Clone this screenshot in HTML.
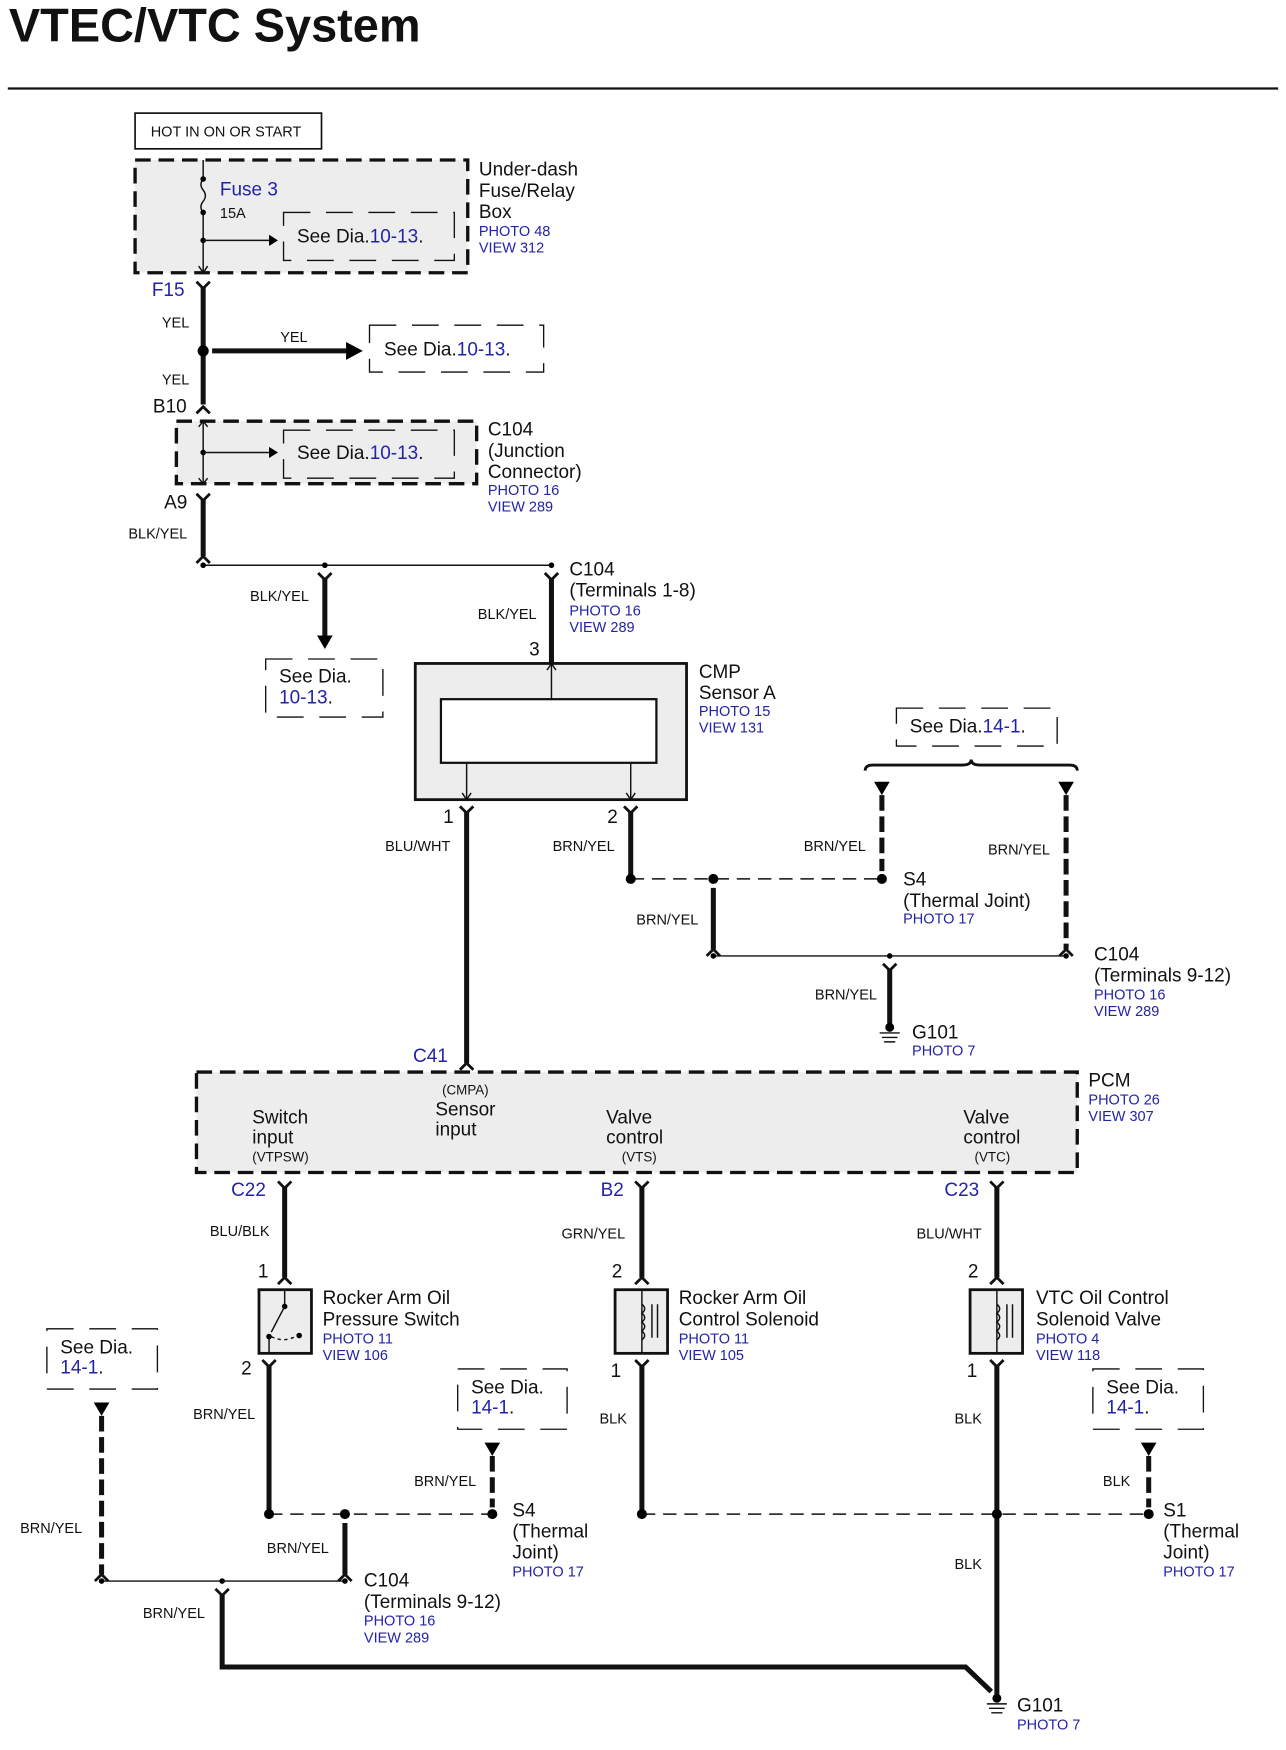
<!DOCTYPE html>
<html><head><meta charset="utf-8"><style>
html,body{margin:0;padding:0;background:#fff;}
svg{display:block;}
text{font-family:"Liberation Sans",sans-serif;fill:#111;}
.b{fill:#2323a8;}
.L{font-size:17px;}
.s{font-size:13px;}
.w{font-size:13px;}
.thick{stroke:#111;stroke-width:4.5;fill:none;}
.thin{stroke:#111;stroke-width:1.3;fill:none;}
.dash{stroke:#111;stroke-width:1.3;fill:none;stroke-dasharray:12 7;}
.box{stroke:#111;stroke-width:3;fill:#ededed;stroke-dasharray:14 7;}
.sbox{stroke:#111;stroke-width:1.2;fill:none;stroke-dasharray:24 14;}
.con{stroke:#111;stroke-width:2.5;fill:none;}
.dw{stroke:#111;stroke-width:4.5;fill:none;stroke-dasharray:14 5;}
</style></head><body>
<svg width="1286" height="1750" viewBox="0 0 1152 1567" xmlns="http://www.w3.org/2000/svg">
<text x="8" y="37" style="font-size:42px;font-weight:bold">VTEC/VTC System</text>
<line x1="7" y1="79" x2="1145" y2="79" stroke="#111" stroke-width="2"/>

<rect x="121" y="101" width="167" height="32" fill="#fff" stroke="#111" stroke-width="1.5"/>
<text x="135" y="122" class="s">HOT IN ON OR START</text>

<rect x="121" y="143" width="298" height="101" class="box"/>
<line x1="182" y1="143" x2="182" y2="160" class="thin"/>
<path d="M182 160 q-4 5 0 10 q4 5 0 10 q-4 5 0 10" class="thin"/>
<line x1="182" y1="190" x2="182" y2="244" class="thin"/>
<circle cx="182" cy="160" r="2.5"/><circle cx="182" cy="190" r="2.5"/><circle cx="182" cy="215" r="2.5"/>
<line x1="182" y1="215" x2="242" y2="215" class="thin"/><path d="M241 210 L249 215 L241 220Z"/>
<path d="M178 238 L182 244 L186 238" class="thin"/>
<text x="197" y="175" class="L b">Fuse 3</text>
<text x="197" y="195" class="s">15A</text>
<rect x="254" y="190" width="153" height="43" class="sbox"/>
<text x="266" y="217" class="L">See Dia.<tspan class="b">10-13</tspan>.</text>
<text x="429" y="157" class="L">Under-dash</text>
<text x="429" y="176" class="L">Fuse/Relay</text>
<text x="429" y="195" class="L">Box</text>
<text x="429" y="211" class="s b">PHOTO 48</text>
<text x="429" y="226" class="s b">VIEW 312</text>

<text x="136" y="265" class="L b">F15</text>
<path d="M176 252 L182 258 L188 252" class="con"/>
<line x1="182" y1="257" x2="182" y2="362" class="thick"/>
<text x="145" y="293" class="w">YEL</text>
<circle cx="182" cy="314" r="5"/>
<line x1="190" y1="314" x2="312" y2="314" class="thick"/><path d="M310 306 L325 314 L310 322Z"/>
<text x="251" y="306" class="w">YEL</text>
<rect x="331" y="291" width="156" height="42" class="sbox"/>
<text x="344" y="318" class="L">See Dia.<tspan class="b">10-13</tspan>.</text>
<text x="145" y="344" class="w">YEL</text>
<text x="137" y="369" class="L">B10</text>
<path d="M176 370 L182 364 L188 370" class="con"/>

<rect x="158" y="377" width="269" height="56" class="box"/>
<line x1="182" y1="377" x2="182" y2="433" class="thin"/>
<path d="M178 382 L182 377 L186 382 M178 428 L182 433 L186 428" class="thin"/>
<circle cx="182" cy="405" r="2.5"/>
<line x1="182" y1="405" x2="242" y2="405" class="thin"/><path d="M241 400 L249 405 L241 410Z"/>
<rect x="254" y="385" width="153" height="43" class="sbox"/>
<text x="266" y="411" class="L">See Dia.<tspan class="b">10-13</tspan>.</text>
<text x="437" y="390" class="L">C104</text>
<text x="437" y="409" class="L">(Junction</text>
<text x="437" y="428" class="L">Connector)</text>
<text x="437" y="443" class="s b">PHOTO 16</text>
<text x="437" y="458" class="s b">VIEW 289</text>

<text x="147" y="455" class="L">A9</text>
<path d="M176 442 L182 448 L188 442" class="con"/>
<line x1="182" y1="447" x2="182" y2="498" class="thick"/>
<path d="M176 504 L182 498 L188 504" class="con"/>
<text x="115" y="482" class="w">BLK/YEL</text>
<line x1="182" y1="506" x2="494" y2="506" class="thin"/>
<circle cx="182" cy="506" r="2.5"/><circle cx="291" cy="506" r="2.5"/><circle cx="494" cy="506" r="2.5"/>
<path d="M285 513 L291 519 L297 513" class="con"/>
<line x1="291" y1="518" x2="291" y2="570" class="thick"/><path d="M284 569 L291 581 L298 569Z"/>
<text x="224" y="538" class="w">BLK/YEL</text>
<rect x="238" y="590" width="105" height="52" class="sbox"/>
<text x="250" y="611" class="L">See Dia.</text>
<text x="250" y="630" class="L b">10-13<tspan fill="#111">.</tspan></text>
<path d="M488 513 L494 519 L500 513" class="con"/>
<line x1="494" y1="518" x2="494" y2="594" class="thick"/>
<text x="428" y="554" class="w">BLK/YEL</text>
<text x="510" y="515" class="L">C104</text>
<text x="510" y="534" class="L">(Terminals 1-8)</text>
<text x="510" y="551" class="s b">PHOTO 16</text>
<text x="510" y="566" class="s b">VIEW 289</text>
<text x="474" y="587" class="L">3</text>

<rect x="372" y="594" width="243" height="122" fill="#ededed" stroke="#111" stroke-width="2.5"/>
<rect x="395" y="626" width="193" height="57" fill="#fff" stroke="#111" stroke-width="2"/>
<line x1="494" y1="594" x2="494" y2="626" class="thin"/><path d="M490 600 L494 594 L498 600" class="thin"/>
<line x1="418" y1="683" x2="418" y2="716" class="thin"/><path d="M414 710 L418 716 L422 710" class="thin"/>
<line x1="565" y1="683" x2="565" y2="716" class="thin"/><path d="M561 710 L565 716 L569 710" class="thin"/>
<text x="626" y="607" class="L">CMP</text>
<text x="626" y="626" class="L">Sensor A</text>
<text x="626" y="641" class="s b">PHOTO 15</text>
<text x="626" y="656" class="s b">VIEW 131</text>
<text x="397" y="737" class="L">1</text>
<text x="544" y="737" class="L">2</text>
<path d="M412 722 L418 728 L424 722" class="con"/>
<line x1="418" y1="727" x2="418" y2="952" class="thick"/>
<path d="M412 958 L418 952 L424 958" class="con"/>
<text x="345" y="762" class="w">BLU/WHT</text>
<path d="M559 722 L565 728 L571 722" class="con"/>
<line x1="565" y1="727" x2="565" y2="787" class="thick"/>
<text x="495" y="762" class="w">BRN/YEL</text>
<line x1="565" y1="787" x2="790" y2="787" class="dash"/>
<circle cx="565" cy="787" r="4.5"/><circle cx="639" cy="787" r="4.5"/><circle cx="790" cy="787" r="4.5"/>
<line x1="639" y1="795" x2="639" y2="850" class="thick"/>
<path d="M633 856 L639 850 L645 856" class="con"/>
<text x="570" y="828" class="w">BRN/YEL</text>
<rect x="803" y="634" width="144" height="34" class="sbox"/>
<text x="815" y="656" class="L">See Dia.<tspan class="b">14-1</tspan>.</text>
<path d="M775 690 Q775 685 782 685 L862 685 Q870 685 870 680 Q870 685 878 685 L958 685 Q965 685 965 690" stroke="#111" stroke-width="2.5" fill="none"/>
<path d="M783 700 L797 700 L790 712Z"/><line x1="790" y1="712" x2="790" y2="780" class="dw"/>
<path d="M948 700 L962 700 L955 712Z"/><line x1="955" y1="712" x2="955" y2="850" class="dw"/>
<path d="M949 856 L955 850 L961 856" class="con"/>
<text x="720" y="762" class="w">BRN/YEL</text>
<text x="885" y="765" class="w">BRN/YEL</text>
<text x="809" y="793" class="L">S4</text>
<text x="809" y="812" class="L">(Thermal Joint)</text>
<text x="809" y="827" class="s b">PHOTO 17</text>
<line x1="639" y1="856" x2="955" y2="856" class="thin"/>
<circle cx="639" cy="856" r="2.5"/><circle cx="797" cy="856" r="2.5"/><circle cx="955" cy="856" r="2.5"/>
<path d="M791 863 L797 869 L803 863" class="con"/>
<line x1="797" y1="868" x2="797" y2="918" class="thick"/>
<circle cx="797" cy="920" r="4"/>
<path d="M788 925 L806 925 M790 929 L804 929 M792 933 L802 933" class="thin"/>
<text x="730" y="895" class="w">BRN/YEL</text>
<text x="817" y="930" class="L">G101</text>
<text x="817" y="945" class="s b">PHOTO 7</text>
<text x="980" y="860" class="L">C104</text>
<text x="980" y="879" class="L">(Terminals 9-12)</text>
<text x="980" y="895" class="s b">PHOTO 16</text>
<text x="980" y="910" class="s b">VIEW 289</text>

<text x="370" y="951" class="L b">C41</text>
<rect x="176" y="960" width="789" height="90" class="box"/>
<text x="975" y="973" class="L">PCM</text>
<text x="975" y="989" class="s b">PHOTO 26</text>
<text x="975" y="1004" class="s b">VIEW 307</text>
<text x="396" y="980" style="font-size:12px">(CMPA)</text>
<text x="390" y="999" class="L">Sensor</text>
<text x="390" y="1017" class="L">input</text>
<text x="226" y="1006" class="L">Switch</text>
<text x="226" y="1024" class="L">input</text>
<text x="226" y="1040" style="font-size:12px">(VTPSW)</text>
<text x="543" y="1006" class="L">Valve</text>
<text x="543" y="1024" class="L">control</text>
<text x="557" y="1040" style="font-size:12px">(VTS)</text>
<text x="863" y="1006" class="L">Valve</text>
<text x="863" y="1024" class="L">control</text>
<text x="873" y="1040" style="font-size:12px">(VTC)</text>

<text x="207" y="1071" class="L b">C22</text>
<text x="538" y="1071" class="L b">B2</text>
<text x="846" y="1071" class="L b">C23</text>
<g>
<path d="M249 1058 L255 1064 L261 1058 M569 1058 L575 1064 L581 1058 M887 1058 L893 1064 L899 1058" class="con"/>
<line x1="255" y1="1063" x2="255" y2="1144" class="thick"/>
<line x1="575" y1="1063" x2="575" y2="1144" class="thick"/>
<line x1="893" y1="1063" x2="893" y2="1144" class="thick"/>
<path d="M249 1150 L255 1144 L261 1150 M569 1150 L575 1144 L581 1150 M887 1150 L893 1144 L899 1150" class="con"/>
</g>
<text x="188" y="1107" class="w">BLU/BLK</text>
<text x="503" y="1109" class="w">GRN/YEL</text>
<text x="821" y="1109" class="w">BLU/WHT</text>
<text x="231" y="1144" class="L">1</text>
<text x="548" y="1144" class="L">2</text>
<text x="867" y="1144" class="L">2</text>

<rect x="232" y="1155" width="47" height="57" fill="#ededed" stroke="#111" stroke-width="2.5"/>
<line x1="255" y1="1155" x2="255" y2="1170" class="thin"/><circle cx="255" cy="1170" r="2.5"/>
<line x1="255" y1="1170" x2="243" y2="1193" class="thin"/><circle cx="241" cy="1197" r="2.5"/><circle cx="268" cy="1196" r="2.5"/>
<path d="M243 1197 Q255 1203 266 1196" class="thin" stroke-dasharray="3 3"/>
<line x1="241" y1="1197" x2="241" y2="1212" class="thin"/>
<rect x="551" y="1155" width="47" height="57" fill="#ededed" stroke="#111" stroke-width="2.5"/>
<line x1="575" y1="1155" x2="575" y2="1212" class="thin"/>
<path d="M575 1168 q5 4 0 8 q5 4 0 8 q5 4 0 8 q5 4 0 8" class="thin"/>
<path d="M584 1168 L584 1198 M589 1168 L589 1198" class="thin"/>
<rect x="869" y="1155" width="47" height="57" fill="#ededed" stroke="#111" stroke-width="2.5"/>
<line x1="893" y1="1155" x2="893" y2="1212" class="thin"/>
<path d="M893 1168 q5 4 0 8 q5 4 0 8 q5 4 0 8 q5 4 0 8" class="thin"/>
<path d="M902 1168 L902 1198 M907 1168 L907 1198" class="thin"/>
<text x="289" y="1168" class="L">Rocker Arm Oil</text>
<text x="289" y="1187" class="L">Pressure Switch</text>
<text x="289" y="1203" class="s b">PHOTO 11</text>
<text x="289" y="1218" class="s b">VIEW 106</text>
<text x="608" y="1168" class="L">Rocker Arm Oil</text>
<text x="608" y="1187" class="L">Control Solenoid</text>
<text x="608" y="1203" class="s b">PHOTO 11</text>
<text x="608" y="1218" class="s b">VIEW 105</text>
<text x="928" y="1168" class="L">VTC Oil Control</text>
<text x="928" y="1187" class="L">Solenoid Valve</text>
<text x="928" y="1203" class="s b">PHOTO 4</text>
<text x="928" y="1218" class="s b">VIEW 118</text>

<text x="216" y="1231" class="L">2</text>
<text x="547" y="1233" class="L">1</text>
<text x="866" y="1233" class="L">1</text>
<path d="M235 1218 L241 1224 L247 1218 M569 1218 L575 1224 L581 1218 M887 1218 L893 1224 L899 1218" class="con"/>
<line x1="241" y1="1223" x2="241" y2="1356" class="thick"/>
<line x1="575" y1="1223" x2="575" y2="1356" class="thick"/>
<line x1="893" y1="1223" x2="893" y2="1520" class="thick"/>
<text x="173" y="1271" class="w">BRN/YEL</text>
<text x="537" y="1275" class="w">BLK</text>
<text x="855" y="1275" class="w">BLK</text>
<text x="855" y="1405" class="w">BLK</text>

<rect x="42" y="1190" width="99" height="54" class="sbox"/>
<text x="54" y="1212" class="L">See Dia.</text><text x="54" y="1230" class="L b">14-1<tspan fill="#111">.</tspan></text>
<rect x="410" y="1226" width="98" height="54" class="sbox"/>
<text x="422" y="1248" class="L">See Dia.</text><text x="422" y="1266" class="L b">14-1<tspan fill="#111">.</tspan></text>
<rect x="979" y="1226" width="99" height="54" class="sbox"/>
<text x="991" y="1248" class="L">See Dia.</text><text x="991" y="1266" class="L b">14-1<tspan fill="#111">.</tspan></text>

<path d="M84 1256 L98 1256 L91 1268Z"/><line x1="91" y1="1268" x2="91" y2="1410" class="dw"/>
<path d="M85 1416 L91 1410 L97 1416" class="con"/>
<path d="M434 1292 L448 1292 L441 1304Z"/><line x1="441" y1="1304" x2="441" y2="1350" class="dw"/>
<path d="M1022 1292 L1036 1292 L1029 1304Z"/><line x1="1029" y1="1304" x2="1029" y2="1350" class="dw"/>
<text x="18" y="1373" class="w">BRN/YEL</text>
<text x="371" y="1331" class="w">BRN/YEL</text>
<text x="988" y="1331" class="w">BLK</text>

<line x1="241" y1="1356" x2="441" y2="1356" class="dash"/>
<circle cx="241" cy="1356" r="4.5"/><circle cx="309" cy="1356" r="4.5"/><circle cx="441" cy="1356" r="4.5"/>
<line x1="309" y1="1364" x2="309" y2="1410" class="thick"/>
<path d="M303 1416 L309 1410 L315 1416" class="con"/>
<text x="239" y="1391" class="w">BRN/YEL</text>
<text x="459" y="1358" class="L">S4</text>
<text x="459" y="1377" class="L">(Thermal</text>
<text x="459" y="1396" class="L">Joint)</text>
<text x="459" y="1412" class="s b">PHOTO 17</text>

<line x1="575" y1="1356" x2="1029" y2="1356" class="dash"/>
<circle cx="575" cy="1356" r="4.5"/><circle cx="893" cy="1356" r="4.5"/><circle cx="1029" cy="1356" r="4.5"/>
<text x="1042" y="1358" class="L">S1</text>
<text x="1042" y="1377" class="L">(Thermal</text>
<text x="1042" y="1396" class="L">Joint)</text>
<text x="1042" y="1412" class="s b">PHOTO 17</text>

<line x1="91" y1="1416" x2="309" y2="1416" class="thin"/>
<circle cx="91" cy="1416" r="2.5"/><circle cx="199" cy="1416" r="2.5"/><circle cx="309" cy="1416" r="2.5"/>
<path d="M193 1423 L199 1429 L205 1423" class="con"/>
<path d="M199 1428 L199 1493 L865 1493 L888 1515" class="thick"/>
<text x="128" y="1449" class="w">BRN/YEL</text>
<text x="326" y="1421" class="L">C104</text>
<text x="326" y="1440" class="L">(Terminals 9-12)</text>
<text x="326" y="1456" class="s b">PHOTO 16</text>
<text x="326" y="1471" class="s b">VIEW 289</text>

<circle cx="893" cy="1521" r="4"/>
<path d="M884 1526 L902 1526 M886 1530 L900 1530 M888 1534 L898 1534" class="thin"/>
<text x="911" y="1533" class="L">G101</text>
<text x="911" y="1549" class="s b">PHOTO 7</text>
</svg>
</body></html>
